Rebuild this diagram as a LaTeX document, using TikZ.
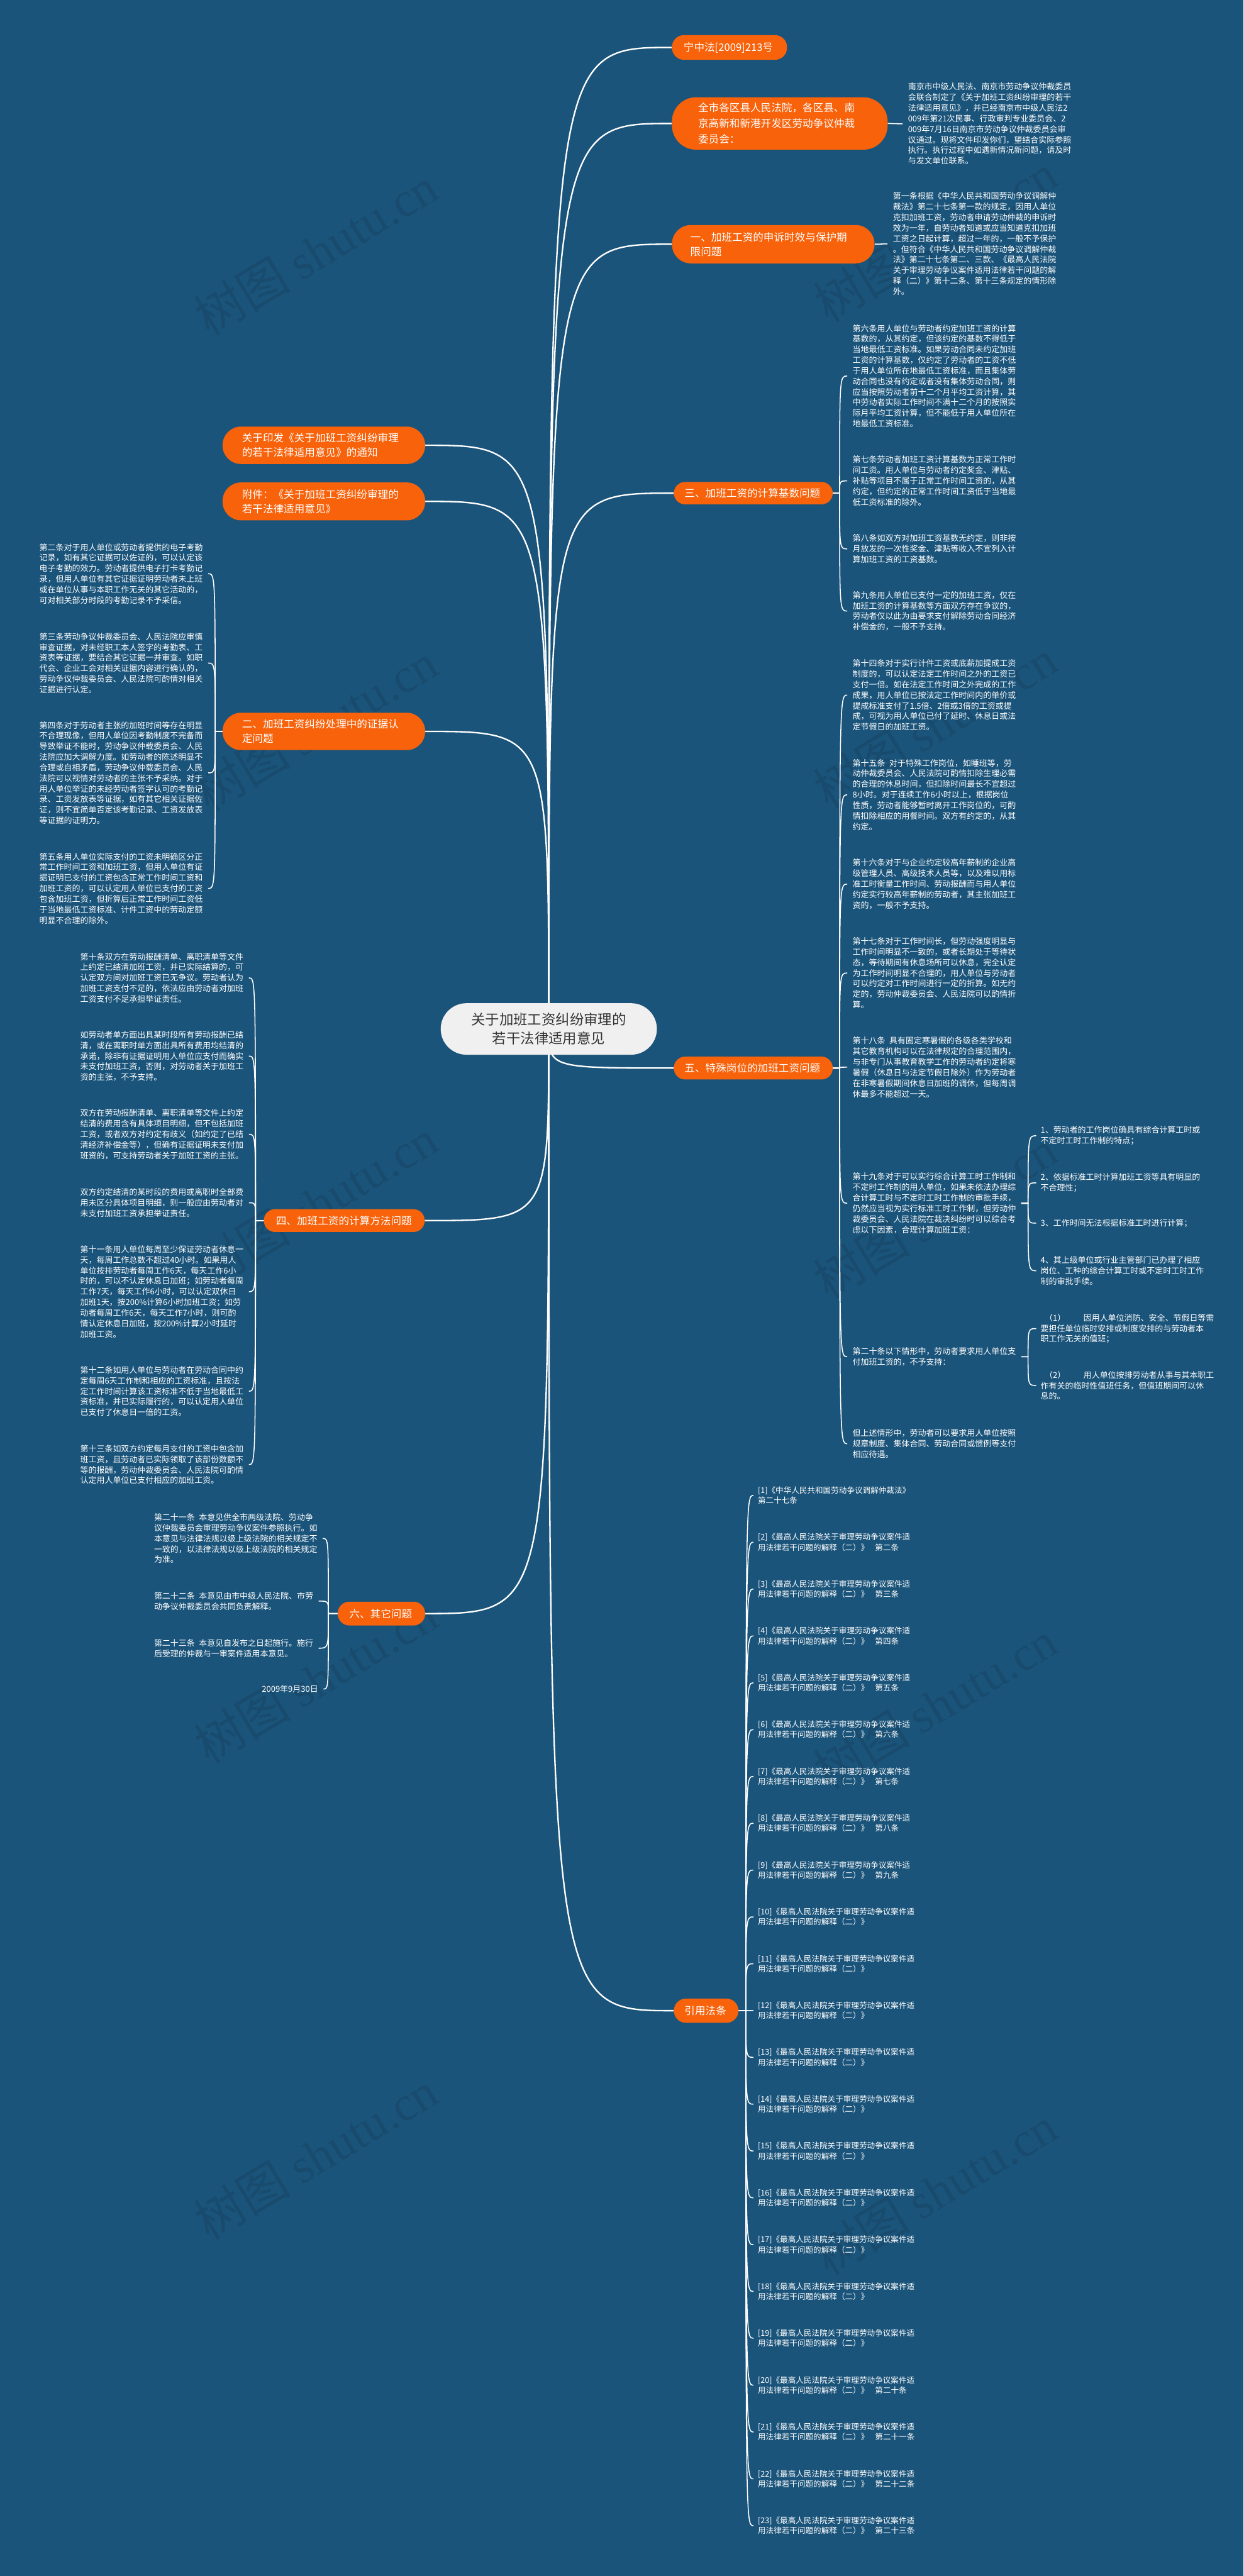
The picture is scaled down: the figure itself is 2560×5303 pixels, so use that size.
\documentclass[tikz,border=0pt]{standalone}
\usepackage{fontspec}
\setmainfont{Noto Sans CJK SC}
\newfontfamily\wmlat{Liberation Serif}
\definecolor{bgblue}{HTML}{1B547A}
\definecolor{org}{HTML}{F7620A}
\definecolor{ctrfill}{HTML}{F0F0F0}
\definecolor{ctrtext}{HTML}{333333}
\pgfdeclarelayer{bgl}
\pgfdeclarelayer{edl}
\pgfsetlayers{bgl,edl,main}
\newcommand\edR[3]{\draw[subedge] (#1.east) -- ++(#3,0) coordinate (tmpc) .. controls (tmpc |- #2.west) .. (#2.west);}
\newcommand\edL[3]{\draw[subedge] (#1.west) -- ++(-#3,0) coordinate (tmpc) .. controls (tmpc |- #2.east) .. (#2.east);}
\begin{document}
\begin{tikzpicture}[x=1pt,y=-1pt,
 onode/.style={fill=org,text=white,font=\fontsize{21.5}{30}\selectfont,align=left,anchor=north west,inner ysep=0pt},
 rtxt/.style={text=white,font=\fontsize{16.8}{21.8}\selectfont,align=left,inner xsep=11pt,inner ysep=0pt,anchor=west},
 itxt/.style={rtxt,inner xsep=9pt},
 reftxt/.style={text=white,font=\fontsize{16.3}{21}\selectfont,align=left,inner xsep=9pt,inner ysep=0pt,anchor=west},
 mainedge/.style={draw=white,line width=3pt},
 subedge/.style={draw=white,line width=2pt},
 wm/.style={text=black,opacity=0.1,rotate=31,font=\fontsize{100}{100}\selectfont}]
\useasboundingbox (0,0) rectangle (2560,5303);
\begin{pgfonlayer}{bgl}
\fill[bgblue] (0,0) rectangle (2560,5303);
\foreach \wy in {517,1497,2477,3457,4437} {\node[wm] (wl\wy) at (650,\wy) {树图 {\wmlat shutu.cn}};}
\foreach \wy in {490,1490,2500,3510,4510} {\node[wm] (wr\wy) at (1925,\wy) {树图 {\wmlat shutu.cn}};}
\end{pgfonlayer}

% center
\node[fill=ctrfill,text=ctrtext,font=\fontsize{29}{38}\selectfont,align=center,minimum width=445pt,minimum height=106pt,rounded corners=53pt,anchor=north west,inner sep=0pt] (ctr) at (907,2065) {关于加班工资纠纷审理的\\若干法律适用意见};

% right main nodes
\node[onode,minimum height=51pt,text width=189pt,inner xsep=24pt,rounded corners=25pt] (A) at (1383,72) {宁中法[2009]213号};
\node[onode,font=\fontsize{21.5}{32}\selectfont,minimum height=108pt,text width=336pt,inner xsep=54pt,rounded corners=50pt] (B) at (1383,200) {全市各区县人民法院，各区县、南\\京高新和新港开发区劳动争议仲裁\\委员会：};
\node[onode,minimum height=79pt,text width=341pt,inner xsep=38pt,rounded corners=39pt] (C) at (1383,463) {一、加班工资的申诉时效与保护期\\限问题};
\node[onode,minimum height=46pt,text width=283pt,inner xsep=22pt,rounded corners=23pt] (D) at (1387,992) {三、加班工资的计算基数问题};
\node[onode,minimum height=47pt,text width=283pt,inner xsep=22pt,rounded corners=23pt] (E) at (1387,2175) {五、特殊岗位的加班工资问题};
\node[onode,minimum height=50pt,text width=89pt,inner xsep=22pt,rounded corners=25pt] (F) at (1387,4114) {引用法条};
% left main nodes
\node[onode,minimum height=77pt,text width=337pt,inner xsep=40pt,rounded corners=38pt] (G) at (458,878) {关于印发《关于加班工资纠纷审理\\的若干法律适用意见》的通知};
\node[onode,minimum height=78pt,text width=337pt,inner xsep=40pt,rounded corners=38pt] (H) at (458,993) {附件：《关于加班工资纠纷审理的\\若干法律适用意见》};
\node[onode,minimum height=77pt,text width=337pt,inner xsep=40pt,rounded corners=38pt] (I) at (458,1467) {二、加班工资纠纷处理中的证据认\\定问题};
\node[onode,minimum height=47pt,text width=281pt,inner xsep=25pt,rounded corners=23pt] (J) at (543,2489) {四、加班工资的计算方法问题};
\node[onode,minimum height=49pt,text width=132pt,inner xsep=24pt,rounded corners=24pt] (K) at (695,3297) {六、其它问题};

% right texts
\node[rtxt] (tB) at (1858,255) {南京市中级人民法、南京市劳动争议仲裁委员\\会联合制定了《关于加班工资纠纷审理的若干\\法律适用意见》，并已经南京市中级人民法2\\009年第21次民事、行政审判专业委员会、2\\009年7月16日南京市劳动争议仲裁委员会审\\议通过。现将文件印发你们，望结合实际参照\\执行。执行过程中如遇新情况新问题，请及时\\与发文单位联系。};
\node[rtxt] (tC) at (1827,502) {第一条根据《中华人民共和国劳动争议调解仲\\裁法》第二十七条第一款的规定，因用人单位\\克扣加班工资，劳动者申请劳动仲裁的申诉时\\效为一年，自劳动者知道或应当知道克扣加班\\工资之日起计算，超过一年的，一般不予保护\\。但符合《中华人民共和国劳动争议调解仲裁\\法》第二十七条第二、三款、《最高人民法院\\关于审理劳动争议案件适用法律若干问题的解\\释（二）》第十二条、第十三条规定的情形除\\外。};
\node[rtxt] (s6) at (1744,774) {第六条用人单位与劳动者约定加班工资的计算\\基数的，从其约定，但该约定的基数不得低于\\当地最低工资标准。如果劳动合同未约定加班\\工资的计算基数，仅约定了劳动者的工资不低\\于用人单位所在地最低工资标准，而且集体劳\\动合同也没有约定或者没有集体劳动合同，则\\应当按照劳动者前十二个月平均工资计算，其\\中劳动者实际工作时间不满十二个月的按照实\\际月平均工资计算，但不能低于用人单位所在\\地最低工资标准。};
\node[rtxt] (s7) at (1744,990) {第七条劳动者加班工资计算基数为正常工作时\\间工资。用人单位与劳动者约定奖金、津贴、\\补贴等项目不属于正常工作时间工资的，从其\\约定，但约定的正常工作时间工资低于当地最\\低工资标准的除外。};
\node[rtxt] (s8) at (1744,1130) {第八条如双方对加班工资基数无约定，则非按\\月放发的一次性奖金、津贴等收入不宜列入计\\算加班工资的工资基数。};
\node[rtxt] (s9) at (1744,1258) {第九条用人单位已支付一定的加班工资，仅在\\加班工资的计算基数等方面双方存在争议的，\\劳动者仅以此为由要求支付解除劳动合同经济\\补偿金的，一般不予支持。};
\node[rtxt] (s14) at (1744,1431) {第十四条对于实行计件工资或底薪加提成工资\\制度的，可以认定法定工作时间之外的工资已\\支付一倍。如在法定工作时间之外完成的工作\\成果，用人单位已按法定工作时间内的单价或\\提成标准支付了1.5倍、2倍或3倍的工资或提\\成，可视为用人单位已付了延时、休息日或法\\定节假日的加班工资。};
\node[rtxt] (s15) at (1744,1636) {第十五条\hspace{0.5em}对于特殊工作岗位，如睡班等，劳\\动仲裁委员会、人民法院可酌情扣除生理必需\\的合理的休息时间，但扣除时间最长不宜超过\\8小时。对于连续工作6小时以上，根据岗位\\性质，劳动者能够暂时离开工作岗位的，可酌\\情扣除相应的用餐时间。双方有约定的，从其\\约定。};
\node[rtxt] (s16) at (1744,1820) {第十六条对于与企业约定较高年薪制的企业高\\级管理人员、高级技术人员等，以及难以用标\\准工时衡量工作时间、劳动报酬而与用人单位\\约定实行较高年薪制的劳动者，其主张加班工\\资的，一般不予支持。};
\node[rtxt] (s17) at (1744,2003) {第十七条对于工作时间长，但劳动强度明显与\\工作时间明显不一致的，或者长期处于等待状\\态，等待期间有休息场所可以休息，完全认定\\为工作时间明显不合理的，用人单位与劳动者\\可以约定对工作时间进行一定的折算。如无约\\定的，劳动仲裁委员会、人民法院可以酌情折\\算。};
\node[rtxt] (s18) at (1744,2197) {第十八条\hspace{0.5em}具有固定寒暑假的各级各类学校和\\其它教育机构可以在法律规定的合理范围内，\\与非专门从事教育教学工作的劳动者约定将寒\\暑假（休息日与法定节假日除外）作为劳动者\\在非寒暑假期间休息日加班的调休，但每周调\\休最多不能超过一天。};
\node[rtxt] (s19) at (1744,2477) {第十九条对于可以实行综合计算工时工作制和\\不定时工作制的用人单位，如果未依法办理综\\合计算工时与不定时工时工作制的审批手续，\\仍然应当视为实行标准工时工作制，但劳动仲\\裁委员会、人民法院在裁决纠纷时可以综合考\\虑以下因素，合理计算加班工资：};
\node[rtxt] (s20) at (1744,2793) {第二十条以下情形中，劳动者要求用人单位支\\付加班工资的，不予支持：};
\node[rtxt] (s21) at (1744,2972) {但上述情形中，劳动者可以要求用人单位按照\\规章制度、集体合同、劳动合同或惯例等支付\\相应待遇。};
\node[itxt] (i1) at (2133,2338) {1、劳动者的工作岗位确具有综合计算工时或\\不定时工时工作制的特点；};
\node[itxt] (i2) at (2133,2435) {2、依据标准工时计算加班工资等具有明显的\\不合理性；};
\node[itxt] (i3) at (2133,2518) {3、工作时间无法根据标准工时进行计算；};
\node[itxt] (i4) at (2133,2616) {4、其上级单位或行业主管部门已办理了相应\\岗位、工种的综合计算工时或不定时工时工作\\制的审批手续。};
\node[itxt] (p1) at (2133,2735) {\hspace{0.5em}（1）\hspace{2.2em}因用人单位消防、安全、节假日等需\\要担任单位临时安排或制度安排的与劳动者本\\职工作无关的值班；};
\node[itxt] (p2) at (2133,2852) {\hspace{0.5em}（2）\hspace{2.2em}用人单位按排劳动者从事与其本职工\\作有关的临时性值班任务，但值班期间可以休\\息的。};

% references
\node[reftxt] (r1) at (1551,3078.5) {[1]《中华人民共和国劳动争议调解仲裁法》\\第二十七条};
\foreach \i/\a in {2/二,3/三,4/四,5/五,6/六,7/七,8/八,9/九,20/二十,21/二十一,22/二十二,23/二十三}
  {\node[reftxt] (r\i) at (1551,{3078.5+(\i-1)*96.4}) {[\i]《最高人民法院关于审理劳动争议案件适\\用法律若干问题的解释（二）》\hspace{0.8em}第\a 条};}
\foreach \i in {10,...,19}
  {\node[reftxt] (r\i) at (1551,{3078.5+(\i-1)*96.4}) {[\i]《最高人民法院关于审理劳动争议案件适\\用法律若干问题的解释（二）》};}

% left texts
\node[rtxt] (l2) at (70,1181) {第二条对于用人单位或劳动者提供的电子考勤\\记录，如有其它证据可以佐证的，可以认定该\\电子考勤的效力。劳动者提供电子打卡考勤记\\录，但用人单位有其它证据证明劳动者未上班\\或在单位从事与本职工作无关的其它活动的，\\可对相关部分时段的考勤记录不予采信。};
\node[rtxt] (l3) at (70,1365) {第三条劳动争议仲裁委员会、人民法院应审慎\\审查证据，对未经职工本人签字的考勤表、工\\资表等证据，要结合其它证据一并审查。如职\\代会、企业工会对相关证据内容进行确认的，\\劳动争议仲裁委员会、人民法院可酌情对相关\\证据进行认定。};
\node[rtxt] (l4) at (70,1591) {第四条对于劳动者主张的加班时间等存在明显\\不合理现像，但用人单位因考勤制度不完备而\\导致举证不能时，劳动争议仲载委员会、人民\\法院应加大调解力度。如劳动者的陈述明显不\\合理或自相矛盾，劳动争议仲载委员会、人民\\法院可以视情对劳动者的主张不予采纳。对于\\用人单位举证的未经劳动者签字认可的考勤记\\录、工资发放表等证据，如有其它相关证据佐\\证，则不宜简单否定该考勤记录、工资发放表\\等证据的证明力。};
\node[rtxt] (l5) at (70,1829) {第五条用人单位实际支付的工资未明确区分正\\常工作时间工资和加班工资，但用人单位有证\\据证明已支付的工资包含正常工作时间工资和\\加班工资的，可以认定用人单位已支付的工资\\包含加班工资，但折算后正常工作时间工资低\\于当地最低工资标准、计件工资中的劳动定额\\明显不合理的除外。};
\node[rtxt] (f10) at (154,2013) {第十条双方在劳动报酬清单、离职清单等文件\\上约定已结清加班工资，并已实际结算的，可\\认定双方间对加班工资已无争议。劳动者认为\\加班工资支付不足的，依法应由劳动者对加班\\工资支付不足承担举证责任。};
\node[rtxt] (fa) at (154,2174) {如劳动者单方面出具某时段所有劳动报酬已结\\清，或在离职时单方面出具所有费用均结清的\\承诺，除非有证据证明用人单位应支付而确实\\未支付加班工资，否则，对劳动者关于加班工\\资的主张，不予支持。};
\node[rtxt] (fb) at (154,2335) {双方在劳动报酬清单、离职清单等文件上约定\\结清的费用含有具体项目明细，但不包括加班\\工资，或者双方对约定有歧义（如约定了已结\\清经济补偿金等），但确有证据证明未支付加\\班资的，可支持劳动者关于加班工资的主张。};
\node[rtxt] (fc) at (154,2476) {双方约定结清的某时段的费用或离职时全部费\\用未区分具体项目明细，则一般应由劳动者对\\未支付加班工资承担举证责任。};
\node[rtxt] (f11) at (154,2659) {第十一条用人单位每周至少保证劳动者休息一\\天，每周工作总数不超过40小时。如果用人\\单位按排劳动者每周工作6天，每天工作6小\\时的，可以不认定休息日加班；如劳动者每周\\工作7天，每天工作6小时，可以认定双休日\\加班1天，按200\%计算6小时加班工资；如劳\\动者每周工作6天，每天工作7小时，则可酌\\情认定休息日加班，按200\%计算2小时延时\\加班工资。};
\node[rtxt] (f12) at (154,2864) {第十二条如用人单位与劳动者在劳动合同中约\\定每周6天工作制和相应的工资标准，且按法\\定工作时间计算该工资标准不低于当地最低工\\资标准，并已实际履行的，可以认定用人单位\\已支付了休息日一倍的工资。};
\node[rtxt] (f13) at (154,3015) {第十三条如双方约定每月支付的工资中包含加\\班工资，且劳动者已实际领取了该部份数额不\\等的报酬，劳动仲裁委员会、人民法院可酌情\\认定用人单位已支付相应的加班工资。};
\node[rtxt] (q21) at (306,3167) {第二十一条\hspace{0.5em}本意见供全市两级法院、劳动争\\议仲裁委员会审理劳动争议案件参照执行。如\\本意见与法律法规以级上级法院的相关规定不\\一致的，以法律法规以级上级法院的相关规定\\为准。};
\node[rtxt] (q22) at (306,3296) {第二十二条\hspace{0.5em}本意见由市中级人民法院、市劳\\动争议仲裁委员会共同负责解释。};
\node[rtxt] (q23) at (306,3393) {第二十三条\hspace{0.5em}本意见自发布之日起施行。施行\\后受理的仲裁与一审案件适用本意见。};
\node[rtxt,anchor=east] (qd) at (666,3477) {2009年9月30日};

% edges
\begin{pgfonlayer}{edl}
\foreach \n in {A,B,C,D,E,F}
  {\draw[mainedge] (ctr.center) .. controls (ctr.center |- \n.west) .. (\n.west);}
\foreach \n in {G,H,I,J,K}
  {\draw[mainedge] (ctr.center) .. controls (ctr.center |- \n.east) .. (\n.east);}
\draw[subedge] (B.east) -- (tB.west);
\draw[subedge] (C.east) -- (tC.west);
\foreach \c in {s6,s7,s8,s9} {\edR{D}{\c}{14}}
\foreach \c in {s14,s15,s16,s17,s18,s19,s20,s21} {\edR{E}{\c}{14}}
\foreach \c in {i1,i2,i3,i4} {\edR{s19}{\c}{14}}
\foreach \c in {p1,p2} {\edR{s20}{\c}{14}}
\foreach \i in {1,...,23} {\edR{F}{r\i}{15}}
\foreach \c in {l2,l3,l4,l5} {\edL{I}{\c}{15}}
\foreach \c in {f10,fa,fb,fc,f11,f12,f13} {\edL{J}{\c}{17}}
\foreach \c in {q21,q22,q23,qd} {\edL{K}{\c}{19}}
\end{pgfonlayer}
\end{tikzpicture}
\end{document}
